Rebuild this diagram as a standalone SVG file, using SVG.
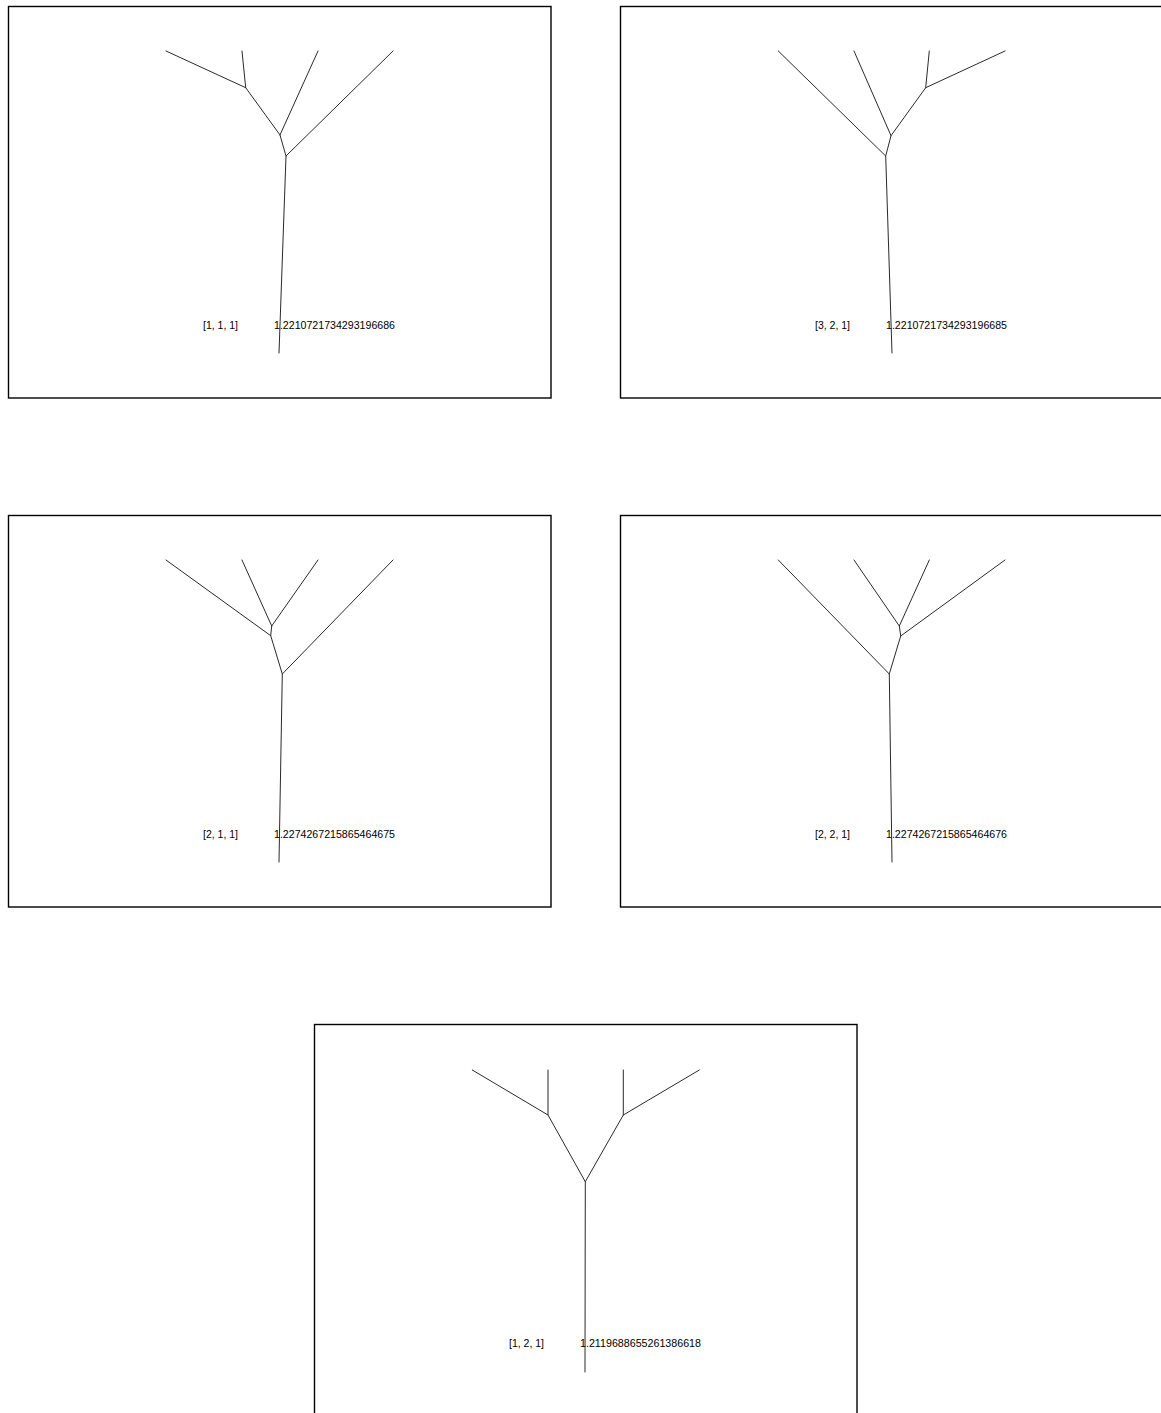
<svg xmlns="http://www.w3.org/2000/svg" width="1161" height="1413" viewBox="0 0 1161 1413">
<style>
.frame{fill:none;stroke:#000;stroke-width:1.4}
.edge{fill:none;stroke:#2a2a2a;stroke-width:1;stroke-linecap:round;stroke-linejoin:round}
.lbl{font-family:"Liberation Sans",Arial,sans-serif;font-size:10.5px;fill:#000}
</style>
<rect width="1161" height="1413" fill="#fff"/>
<g id="panel1">
<rect class="frame" x="8.5" y="6.5" width="542.5" height="391.5"/>
<g class="edges">
<path class="edge" d="M166,51 L245.7,87.7 M242,51 L245.7,87.7 L280,135 L286,156 M318,51 L280,135 M393,51 L286,156 L279,353"/>
</g>
<text class="lbl" x="203" y="329">[1, 1, 1]</text>
<text class="lbl" x="274" y="329" textLength="121" lengthAdjust="spacingAndGlyphs">1.2210721734293196686</text>
</g>
<g id="panel2">
<rect class="frame" x="620.5" y="6.5" width="542.5" height="391.5"/>
<g class="edges">
<path class="edge" d="M1005,51 L925.7,87.7 M929.3,51 L925.7,87.7 L891,135.7 L885.7,156 M854,51 L891,135.7 M778.3,51 L885.7,156 L892,353"/>
</g>
<text class="lbl" x="815" y="329">[3, 2, 1]</text>
<text class="lbl" x="886" y="329" textLength="121" lengthAdjust="spacingAndGlyphs">1.2210721734293196685</text>
</g>
<g id="panel3">
<rect class="frame" x="8.5" y="515.5" width="542.5" height="391.5"/>
<g class="edges">
<path class="edge" d="M242,560 L271.7,626 M318,560 L271.7,626 L270.7,635.7 M166,560 L270.7,635.7 L282.3,674 M393,560 L282.3,674 L279,862"/>
</g>
<text class="lbl" x="203" y="838">[2, 1, 1]</text>
<text class="lbl" x="274" y="838" textLength="121" lengthAdjust="spacingAndGlyphs">1.2274267215865464675</text>
</g>
<g id="panel4">
<rect class="frame" x="620.5" y="515.5" width="542.5" height="391.5"/>
<g class="edges">
<path class="edge" d="M854,560 L899.3,626 M929.3,560 L899.3,626 L900.7,636 M1005,560 L900.7,636 L889.3,674 M778.3,560 L889.3,674 L892,862"/>
</g>
<text class="lbl" x="815" y="838">[2, 2, 1]</text>
<text class="lbl" x="886" y="838" textLength="121" lengthAdjust="spacingAndGlyphs">1.2274267215865464676</text>
</g>
<g id="panel5">
<rect class="frame" x="314.5" y="1024.5" width="542.5" height="391.5"/>
<g class="edges">
<path class="edge" d="M472.3,1070 L548,1115 M548,1070 L548,1115 L585.3,1181.7 M623.3,1070 L623.3,1115 M699.3,1070 L623.3,1115 L585.3,1181.7 L585,1372"/>
</g>
<text class="lbl" x="509" y="1347">[1, 2, 1]</text>
<text class="lbl" x="580" y="1347" textLength="121" lengthAdjust="spacingAndGlyphs">1.2119688655261386618</text>
</g>
</svg>
